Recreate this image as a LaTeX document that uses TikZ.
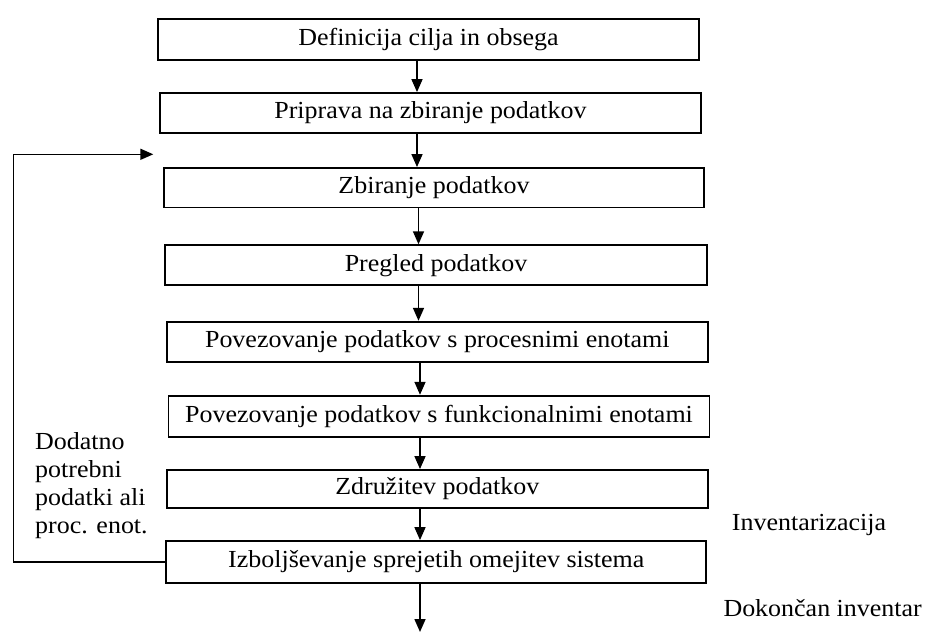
\documentclass[tikz,border=0pt]{standalone}
\usepackage{fontspec}
\setmainfont{Liberation Serif}[FakeStretch=1.06]
\usetikzlibrary{arrows.meta}

\tikzset{
  stepbox/.style={draw=black, line width=1.8pt, fill=white, inner sep=0pt,
    minimum height=40pt, font=\fontsize{24.5}{28.3}\selectfont},
  flow/.style={draw=black, line width=1.6pt,
    -{Triangle[length=13pt, width=11pt]}},
  note/.style={inner sep=0pt, font=\fontsize{24.5}{28.3}\selectfont},
}

\begin{document}
\begin{tikzpicture}[x=1pt, y=-1pt]
  \useasboundingbox[fill=white] (0,0) rectangle (930,642);

  % process steps, top to bottom
  \node[stepbox, minimum width=541pt, minimum height=41pt] (b1) at (428.5,39.5) {Definicija cilja in obsega};
  \node[stepbox, minimum width=541pt] (b2) at (430.5,113) {Priprava na zbiranje podatkov};
  \node[stepbox, minimum width=540pt, minimum height=39.5pt] (b3) at (434,187.7) {Zbiranje podatkov};
  \node[stepbox, minimum width=542pt] (b4) at (436,265.2) {Pregled podatkov};
  \node[stepbox, minimum width=541pt, minimum height=40.6pt] (b5) at (437.3,342) {Povezovanje podatkov s procesnimi enotami};
  \node[stepbox, minimum width=541pt, minimum height=41.6pt] (b6) at (439,416.5) {Povezovanje podatkov s funkcionalnimi enotami};
  \node[stepbox, minimum width=541pt, minimum height=37.7pt] (b7) at (437.3,488.8) {Združitev podatkov};
  \node[stepbox, minimum width=540pt, minimum height=42pt] (b8) at (436.3,562) {Izboljševanje sprejetih omejitev sistema};

  % columns used by the vertical connectors
  \coordinate (colA) at (417,0);
  \coordinate (colB) at (418.5,0);
  \coordinate (colC) at (420,0);
  \coordinate (done) at (420,632);
  \coordinate (loopx) at (13.3,0);
  \coordinate (back) at (153.3,154.3);

  % main flow
  \draw[flow] (b1.south -| colA) -- (b2.north -| colA);
  \draw[flow] (b2.south -| colA) -- (b3.north -| colA);
  \draw[flow] (b3.south -| colB) -- (b4.north -| colB);
  \draw[flow] (b4.south -| colB) -- (b5.north -| colB);
  \draw[flow] (b5.south -| colC) -- (b6.north -| colC);
  \draw[flow] (b6.south -| colC) -- (b7.north -| colC);
  \draw[flow] (b7.south -| colC) -- (b8.north -| colC);
  \draw[flow] (b8.south -| colC) -- (done);

  % feedback loop back to data collection
  \draw[flow] (b8.west) -- (b8.west -| loopx) |- (back);

  % side labels
  \node[note, anchor=north west, align=left] (fb) at (35,431.8)
    {Dodatno\\potrebni\\podatki ali\\proc. enot.};
  \node[note, anchor=base west] (inv) at (731.7,530) {Inventarizacija};
  \node[note, anchor=base west] (fin) at (723.3,616) {Dokončan inventar};
\end{tikzpicture}
\end{document}
